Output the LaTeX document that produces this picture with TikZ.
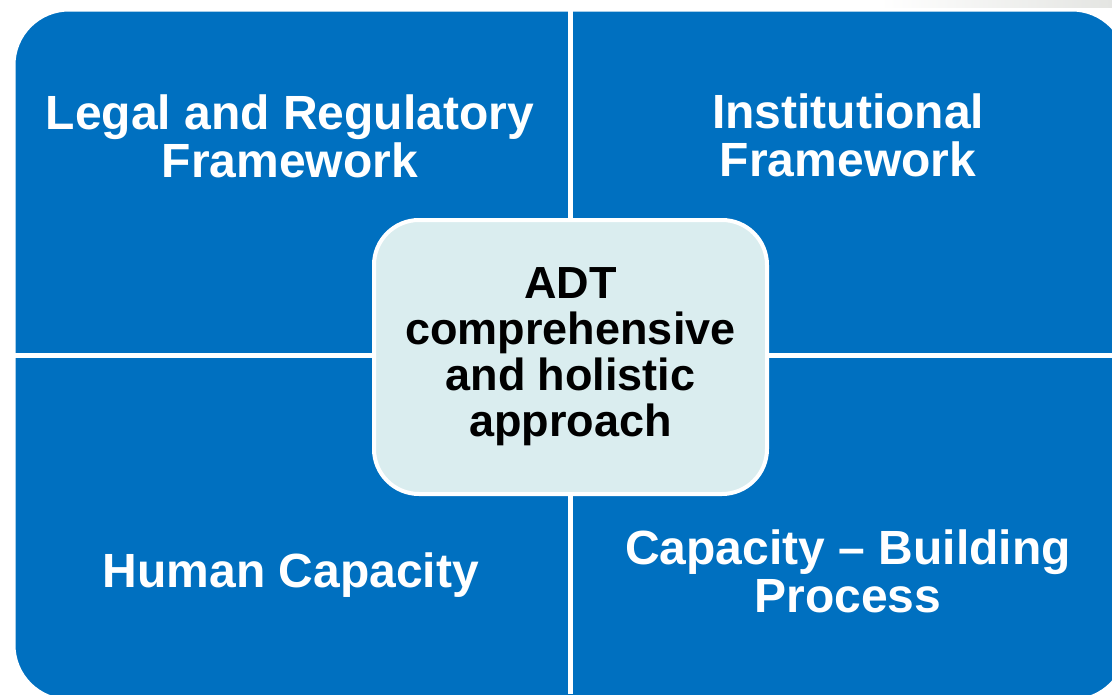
\documentclass[tikz,border=0pt]{standalone}
\usepackage{fontspec}
\setmainfont{Liberation Sans}
\definecolor{adtblue}{HTML}{0070C0}
\definecolor{adtcore}{HTML}{DAEDEF}
\definecolor{adtgrey}{HTML}{E4E5E2}

\begin{document}
\begin{tikzpicture}[x=1pt, y=-1pt,
    quadtext/.style={text=white, font=\fontsize{48}{48}\selectfont\bfseries, align=center, inner sep=0pt},
    core/.style={fill=adtcore, draw=white, line width=4pt, rounded corners=45pt,
      minimum width=393pt, minimum height=274pt, align=center,
      font=\fontsize{45}{46}\selectfont\bfseries, inner sep=0pt}]
    \useasboundingbox (0,0) rectangle (1112,694);
    \clip (0,0) rectangle (1112,694);
    % backdrop and the four panels
    \shade[left color=white, right color=adtgrey] (880,0) rectangle (1112,80);
    \fill[white] (0,8) rectangle (1112,694);
    \draw[fill=adtblue, draw=white, line width=3pt, rounded corners=55pt] (14,10) rectangle (1127,700);
    \coordinate (top) at (570.5,0);
    \coordinate (bottom) at (570.5,694);
    \coordinate (left) at (0,355);
    \coordinate (right) at (1112,355);
    \draw[white, line width=5pt] (top) -- (bottom);
    \draw[white, line width=5pt] (left) -- (right);
    \node[quadtext] (legal) at (290,136) {Legal and Regulatory\\Framework};
    \node[quadtext] (inst) at (848,135) {Institutional\\Framework};
    \node[quadtext] (human) at (291,575) {Human Capacity};
    \node[quadtext] (build) at (848,571) {Capacity – Building\\Process};
    \node[core] (adt) at (570.5,357) {ADT\\comprehensive\\and holistic\\approach};
\end{tikzpicture}
\end{document}
